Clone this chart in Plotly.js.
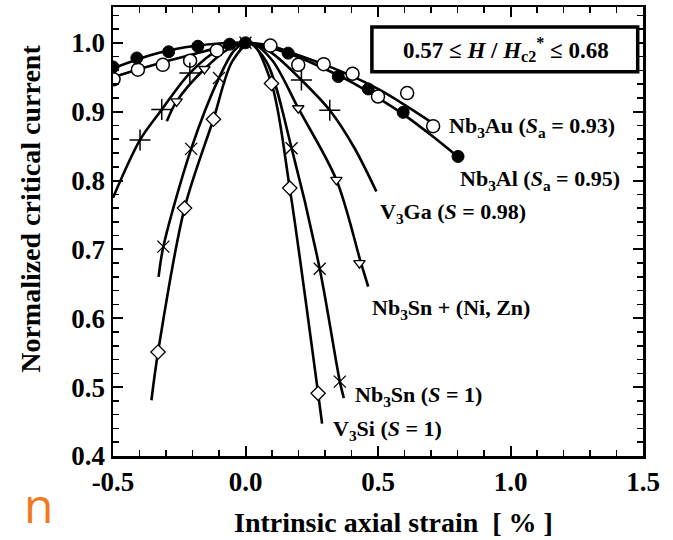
<!DOCTYPE html>
<html>
<head>
<meta charset="utf-8">
<script src="https://cdn.plot.ly/plotly-3.0.1.min.js"></script>
<style>
  html, body { margin: 0; padding: 0; background: #fff; }
  #chart { width: 673px; height: 540px; }
</style>
</head>
<body>
<div id="chart"></div>
<script>
// Normalized critical current vs intrinsic axial strain for A15 compounds.

// Fitted curves (strain %, Ic/Icmax)
const nb3alCurveX = [-0.5, -0.4, -0.3, -0.2, -0.1, 0.0, 0.1, 0.2, 0.3, 0.4, 0.5, 0.6, 0.7, 0.8];
const nb3alCurveY = [0.963, 0.977, 0.988, 0.995, 0.999, 1.0, 0.992, 0.979, 0.962, 0.943, 0.920, 0.895, 0.866, 0.835];

const nb3auCurveX = [-0.5, -0.4, -0.3, -0.2, -0.1, 0.0, 0.1, 0.2, 0.3, 0.4, 0.5, 0.6, 0.72];
const nb3auCurveY = [0.950, 0.962, 0.973, 0.983, 0.993, 1.0, 0.995, 0.982, 0.968, 0.952, 0.933, 0.910, 0.880];

const v3gaCurveX = [-0.5, -0.398, -0.316, -0.21, -0.1, 0.02, 0.1, 0.211, 0.318, 0.41, 0.494];
const v3gaCurveY = [0.775, 0.859, 0.903, 0.956, 0.990, 1.0, 0.985, 0.946, 0.902, 0.848, 0.784];

const nisnCurveX = [-0.297, -0.26, -0.155, -0.06, 0.02, 0.1, 0.199, 0.343, 0.436, 0.463];
const nisnCurveY = [0.886, 0.915, 0.962, 0.992, 1.0, 0.975, 0.905, 0.801, 0.680, 0.646];

const nb3snCurveX = [-0.328, -0.31, -0.205, -0.10, -0.04, 0.01, 0.08, 0.174, 0.28, 0.356, 0.371];
const nb3snCurveY = [0.660, 0.704, 0.846, 0.949, 0.990, 1.0, 0.972, 0.847, 0.672, 0.508, 0.484];

const v3siCurveX = [-0.355, -0.33, -0.23, -0.121, -0.05, 0.02, 0.098, 0.167, 0.274, 0.289];
const v3siCurveY = [0.481, 0.551, 0.760, 0.889, 0.973, 1.0, 0.941, 0.789, 0.491, 0.447];

// Measured points
const nb3alX = [-0.5, -0.41, -0.29, -0.18, -0.06, 0.0, 0.161, 0.35, 0.463, 0.595, 0.802];
const nb3alY = [0.965, 0.978, 0.987, 0.995, 0.998, 1.0, 0.985, 0.951, 0.933, 0.899, 0.835];

const nb3auX = [-0.498, -0.406, -0.312, -0.209, -0.108, 0.094, 0.199, 0.295, 0.404, 0.50, 0.61, 0.708];
const nb3auY = [0.947, 0.961, 0.968, 0.974, 0.989, 0.996, 0.968, 0.969, 0.955, 0.922, 0.927, 0.879];

const v3gaX = [-0.398, -0.316, -0.21, 0.211, 0.318];
const v3gaY = [0.859, 0.903, 0.956, 0.946, 0.902];

const nisnX = [-0.26, -0.155, 0.199, 0.343, 0.43];
const nisnY = [0.915, 0.962, 0.905, 0.801, 0.680];

const nb3snX = [-0.31, -0.205, -0.10, 0.0, 0.174, 0.28, 0.356];
const nb3snY = [0.704, 0.846, 0.949, 1.0, 0.847, 0.672, 0.508];

const v3siX = [-0.33, -0.23, -0.121, 0.098, 0.167, 0.274];
const v3siY = [0.551, 0.760, 0.889, 0.941, 0.789, 0.491];

const xTickVals = [-0.5, 0.0, 0.5, 1.0, 1.5];
const xTickText = ['-0.5', '0.0', '0.5', '1.0', '1.5'];

const SERIF = 'Liberation Serif, Times New Roman, serif';
const LW = 2.6;

function curve(x, y) {
  return { x, y, type: 'scatter', mode: 'lines', hoverinfo: 'skip',
           line: { color: '#000', width: LW, shape: 'spline', smoothing: 0.9 } };
}
function pts(x, y, symbol, size, fill, lw) {
  return { x, y, type: 'scatter', mode: 'markers',
           marker: { symbol, size, color: fill, line: { color: '#000', width: lw } } };
}

const traces = [
  curve(nb3alCurveX, nb3alCurveY),
  curve(nb3auCurveX, nb3auCurveY),
  curve(v3gaCurveX, v3gaCurveY),
  curve(nisnCurveX, nisnCurveY),
  curve(nb3snCurveX, nb3snCurveY),
  curve(v3siCurveX, v3siCurveY),
  pts(nb3auX, nb3auY, 'circle', 13, '#fff', 1.5),
  pts(nb3alX, nb3alY, 'circle', 12, '#000', 1),
  pts(v3gaX, v3gaY, 'cross-thin-open', 15, '#000', 1.5),
  pts(nisnX, nisnY, 'triangle-down', 10, '#fff', 1.3),
  pts(nb3snX, nb3snY, 'x-thin-open', 12, '#000', 1.3),
  pts(v3siX, v3siY, 'diamond', 11, '#fff', 1.3)
];

const lbl = (x, y, text) => ({
  x, y, xref: 'x', yref: 'y', text, showarrow: false,
  xanchor: 'left', yanchor: 'middle',
  font: { family: SERIF, size: 22, color: '#000', weight: 'bold' }
});

const layout = {
  width: 673, height: 540,
  margin: { l: 113, r: 30, t: 7, b: 84 },
  paper_bgcolor: '#fff', plot_bgcolor: '#fff',
  showlegend: false,
  xaxis: {
    range: [-0.5, 1.5], tickvals: xTickVals, ticktext: xTickText,
    ticks: 'inside', ticklen: 10, tickwidth: 2, tickcolor: '#000',
    minor: { dtick: 0.1, tick0: 0, ticks: 'inside', ticklen: 6, tickwidth: 1.5, tickcolor: '#000' },
    showline: true, linewidth: 2.5, linecolor: '#000', mirror: 'allticks',
    showgrid: false, zeroline: false,
    tickfont: { family: SERIF, size: 27, color: '#000', weight: 'bold' }
  },
  yaxis: {
    range: [0.4, 1.052], dtick: 0.1, tick0: 0, tickformat: '.1f',
    ticks: 'inside', ticklen: 10, tickwidth: 2, tickcolor: '#000',
    minor: { dtick: 0.02, tick0: 0, ticks: 'inside', ticklen: 6, tickwidth: 1.5, tickcolor: '#000' },
    showline: true, linewidth: 2.5, linecolor: '#000', mirror: 'allticks',
    showgrid: false, zeroline: false,
    tickfont: { family: SERIF, size: 27, color: '#000', weight: 'bold' }
  },
  shapes: [
    { type: 'rect', xref: 'x', yref: 'y', x0: 0.477, x1: 1.48, y0: 0.958, y1: 1.023,
      line: { color: '#000', width: 3.5 }, fillcolor: '#fff' }
  ],
  annotations: [
    { x: 0.982, y: 0.99, xref: 'x', yref: 'y', showarrow: false,
      xanchor: 'center', yanchor: 'middle',
      text: '0.57 ≤ <i>H</i> / <i>H</i><sub>c2</sub><sup>*</sup> ≤ 0.68',
      font: { family: SERIF, size: 23, color: '#000', weight: 'bold' } },
    lbl(0.760, 0.878, 'Nb<sub>3</sub>Au (<i>S</i><sub>a</sub> = 0.93)'),
    lbl(0.801, 0.801, 'Nb<sub>3</sub>Al (<i>S</i><sub>a</sub> = 0.95)'),
    lbl(0.499, 0.753, 'V<sub>3</sub>Ga (<i>S</i> = 0.98)'),
    lbl(0.469, 0.613, 'Nb<sub>3</sub>Sn + (Ni, Zn)'),
    lbl(0.405, 0.487, 'Nb<sub>3</sub>Sn (<i>S</i> = 1)'),
    lbl(0.322, 0.4375, 'V<sub>3</sub>Si (<i>S</i> = 1)'),
    { x: 0.530, y: -0.149, xref: 'paper', yref: 'paper', showarrow: false,
      xanchor: 'center', yanchor: 'middle',
      text: 'Intrinsic axial strain  [ % ]',
      font: { family: SERIF, size: 28, color: '#000', weight: 'bold' } },
    { x: -0.157, y: 0.55, xref: 'paper', yref: 'paper', showarrow: false, textangle: -90,
      xanchor: 'center', yanchor: 'middle',
      text: 'Normalized critical current',
      font: { family: SERIF, size: 28, color: '#000', weight: 'bold' } },
    { x: -0.140, y: -0.109, xref: 'paper', yref: 'paper', showarrow: false,
      xanchor: 'center', yanchor: 'middle',
      text: 'n', font: { family: 'Open Sans, sans-serif', size: 48, color: '#EE7A1E' } }
  ]
};

Plotly.newPlot('chart', traces, layout, { staticPlot: true, displayModeBar: false });
</script>
</body>
</html>
